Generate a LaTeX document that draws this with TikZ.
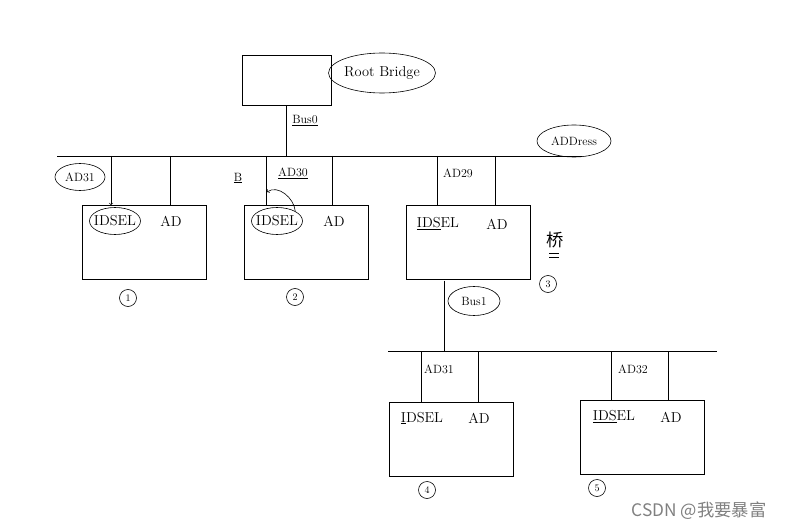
\documentclass[tikz,border=0pt]{standalone}
\usepackage{fontspec}
\newfontfamily\cjk{Noto Sans CJK SC}
\usetikzlibrary{positioning,shapes,fit,arrows,backgrounds}

\begin{document}
\begin{tikzpicture}[x=1pt,y=-1pt,line width=0.6pt,>=to,
	dev/.style={draw,minimum width=124pt,minimum height=74pt,inner sep=0pt},
	ring/.style={draw,ellipse,inner sep=1pt},
	pin/.style={font=\Large},
	tag/.style={font=\large},
	num/.style={draw,circle,inner sep=0.5pt,minimum size=17pt,font=\normalsize}]

		\useasboundingbox (0,0) rectangle (786,529);

		% the root bridge
		\node[draw,minimum width=89pt,minimum height=50pt] (rb) at (286.5,80) {};
		\node[ring,font=\Large,minimum width=99pt,minimum height=40pt,inner sep=0pt] (rbl) at (382,73) {Root Bridge};

		% bus 0 and the address line
		\coordinate (b0w) at (57,156);
		\coordinate (b0e) at (582,156);
		\draw (b0w) -- (b0e);
		\draw (rb.south) -- (rb.south |- b0w);
		\node[tag] (bus0) at (305,121) {\underline{Bus0}};
		\node[ring,font=\large,minimum width=74pt,minimum height=32pt,inner sep=-2pt] (addr) at (574,141) {ADDress};

		% device 1
		\node[dev] (d1) at (144,242) {};
		\node[pin,ring,minimum height=27pt,inner sep=-3pt] (i1) at (115,221) {IDSEL};
		\node[pin] (a1) at (171,221) {AD};
		\coordinate (p1) at (111,205);
		\coordinate (q1) at (170,205);
		\draw[->] (p1 |- b0w) -- (p1);
		\draw (q1 |- b0w) -- (q1);
		\node[ring,tag,minimum width=50pt,minimum height=27pt,inner sep=-2pt] (t1) at (80,177) {AD31};
		\node[num] (n1) at (128,298) {1};

		% device 2
		\node[dev] (d2) at (306,242) {};
		\node[pin,ring,minimum height=27pt,inner sep=-3pt] (i2) at (277,221) {IDSEL};
		\node[pin] (a2) at (334,221) {AD};
		\coordinate (p2) at (266,205);
		\coordinate (q2) at (332,205);
		\coordinate (p2m) at (267,192);
		\draw (p2 |- b0w) -- (p2);
		\draw (q2 |- b0w) -- (q2);
		\draw[->] (i2.north east) to[out=95,in=35] (p2m);
		\node[tag] (bl) at (238,178) {\underline{B}};
		\node[tag] (t2) at (293,173) {\underline{AD30}};
		\node[num] (n2) at (295,297) {2};

		% device 3, the bridge
		\node[dev] (d3) at (468,242.5) {};
		\node[pin] (i3) at (438,224) {\underline{IDS}EL};
		\node[pin] (a3) at (497,224) {AD};
		\coordinate (p3) at (437,205);
		\coordinate (q3) at (495,205);
		\draw (p3 |- b0w) -- (p3);
		\draw (q3 |- b0w) -- (q3);
		\node[tag] (t3) at (458,173) {AD29};
		\node[font={\cjk\LARGE}] (br) at (555,240) {桥};
		\draw (549,253) -- (559,253);
		\draw (549,257) -- (559,257);
		\node[num] (n3) at (548,284) {3};

		% bus 1
		\coordinate (b1w) at (388,351);
		\coordinate (b1e) at (717,351);
		\coordinate (u3) at (444,280.5);
		\draw (b1w) -- (b1e);
		\draw (u3) -- (u3 |- b1w);
		\node[ring,tag,minimum width=52pt,minimum height=29pt,inner sep=-2pt] (bus1) at (474,301) {Bus1};

		% device 4
		\node[dev] (d4) at (451.5,439) {};
		\node[pin] (i4) at (422,418) {\underline{I}DSEL};
		\node[pin] (a4) at (479,418) {AD};
		\coordinate (p4) at (421,402);
		\coordinate (q4) at (478,402);
		\draw (p4 |- b1w) -- (p4);
		\draw (q4 |- b1w) -- (q4);
		\node[tag] (t4) at (439,369) {AD31};
		\node[num] (n4) at (427,490) {4};

		% device 5
		\node[dev] (d5) at (642.5,437) {};
		\node[pin] (i5) at (614,417) {\underline{IDS}EL};
		\node[pin] (a5) at (671,417) {AD};
		\coordinate (p5) at (611,400);
		\coordinate (q5) at (668,400);
		\draw (p5 |- b1w) -- (p5);
		\draw (q5 |- b1w) -- (q5);
		\node[tag] (t5) at (633,369) {AD32};
		\node[num] (n5) at (597,488) {5};

		% watermark
		\node[font={\cjk\LARGE},text=gray] (wm) at (699,511) {CSDN @我要暴富};

	\end{tikzpicture}
\end{document}
